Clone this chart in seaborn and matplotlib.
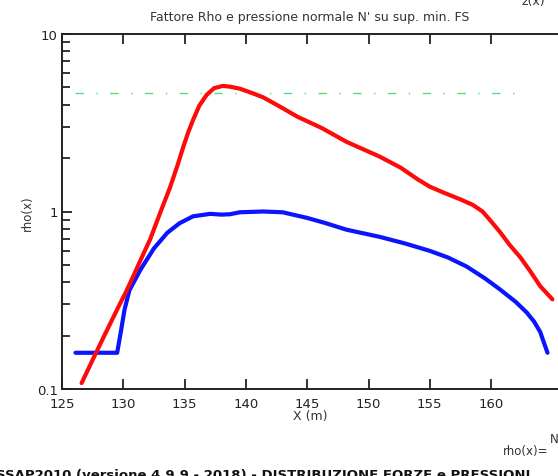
import numpy as np
import pandas as pd
import matplotlib
matplotlib.use("Agg")
import matplotlib.pyplot as plt
import matplotlib.ticker as mticker
import seaborn as sns

# rho(x) curve (red)
red_x = [126.6, 127.5, 128.5, 129.6, 130.2, 130.8, 131.5, 132.2, 133.0, 133.8,
         134.4, 134.9, 135.3, 135.7, 136.2, 136.8, 137.4, 138.1, 138.7, 139.5,
         140.5, 141.4, 142.8, 144.2, 146.2, 148.2, 150.9, 152.6, 154.0, 155.0,
         156.1, 157.5, 158.5, 159.3, 160.0, 160.7, 161.5, 162.4, 163.2, 164.0, 165.0]
red_y = [0.108, 0.146, 0.203, 0.29, 0.35, 0.43, 0.55, 0.70, 0.98, 1.36,
         1.8, 2.32, 2.8, 3.29, 3.95, 4.54, 4.95, 5.1, 5.05, 4.92,
         4.65, 4.40, 3.89, 3.42, 2.95, 2.47, 2.04, 1.77, 1.52, 1.38,
         1.28, 1.17, 1.09, 1.00, 0.88, 0.77, 0.65, 0.55, 0.46, 0.38, 0.32]

# N' curve (blue)
blue_x = [126.1, 129.5, 129.8, 130.1, 130.5, 131.4, 132.5, 133.6, 134.6, 135.7,
          137.1, 138.0, 138.7, 139.5, 141.4, 143.0, 145.0, 146.5, 148.2, 150.9,
          153.0, 155.0, 156.5, 158.0, 159.5, 160.7, 162.0, 162.9, 163.5, 164.0, 164.6]
blue_y = [0.16, 0.16, 0.21, 0.28, 0.36, 0.47, 0.62, 0.76, 0.86, 0.94,
          0.97, 0.96, 0.965, 0.99, 1.0, 0.99, 0.92, 0.86, 0.79, 0.72,
          0.66, 0.60, 0.55, 0.49, 0.42, 0.365, 0.31, 0.27, 0.24, 0.21, 0.16]

# FS level (green dash-dot)
fs_x = [126.1, 162.4]
fs_y = [4.66, 4.66]

yticks = [0.1, 1, 10]
ytick_labels = ["0.1", "1", "10"]
xticks = [125, 130, 135, 140, 145, 150, 155, 160]

sns.set_style("ticks")
plt.rcParams['font.family'] = ['DejaVu Sans']

W, H = 558, 477
fig = plt.figure(figsize=(W / 100, H / 100), dpi=100)
fig.patch.set_facecolor("white")
ax = fig.add_axes([62 / W, 1 - 390 / H, (557 - 62) / W, (390 - 35) / H])

df_red = pd.DataFrame({"x": red_x, "y": red_y})
df_blue = pd.DataFrame({"x": blue_x, "y": blue_y})
df_fs = pd.DataFrame({"x": fs_x, "y": fs_y})

sns.lineplot(data=df_fs, x="x", y="y", ax=ax, color="#55dd77", lw=1.0,
             linestyle=(0, (6, 9, 1, 9)), estimator=None)
sns.lineplot(data=df_blue, x="x", y="y", ax=ax, color="#0a14ff", lw=3.0,
             estimator=None, sort=False)
sns.lineplot(data=df_red, x="x", y="y", ax=ax, color="#ff0a0a", lw=3.0,
             estimator=None, sort=False)
for ln in ax.lines:
    ln.set_solid_joinstyle("round")
    ln.set_solid_capstyle("round")

ax.set_yscale("log")
ax.set_ylim(0.1, 10)
ax.set_xlim(125, 125 + (557 - 62) / 12.26)
ax.set_yticks(yticks)
ax.yaxis.set_major_formatter(mticker.FixedFormatter(ytick_labels))
ax.yaxis.set_minor_locator(mticker.LogLocator(base=10, subs=np.arange(2, 10)))
ax.yaxis.set_minor_formatter(mticker.NullFormatter())
ax.set_xticks(xticks)

ax.tick_params(axis="both", which="major", direction="in", length=7, width=1.3,
               labelsize=9.5, colors="#222222")
ax.tick_params(axis="y", which="minor", direction="in", length=6, width=1.3)
ax.tick_params(axis="x", top=True, pad=6)
ax.tick_params(axis="y", pad=3)

for s in ["left", "bottom", "top"]:
    ax.spines[s].set_linewidth(1.4)
    ax.spines[s].set_color("#222222")
ax.spines["right"].set_visible(False)

ax.set_xlabel("")
ax.set_ylabel("")
ax.grid(False)

def fx(px):
    return px / W

def fy(py):
    return 1 - py / H

fig.text(fx(310), fy(17), "Fattore Rho e pressione normale N' su sup. min. FS",
         ha="center", va="center", fontsize=9, color="#333333")
fig.text(fx(533), fy(1), "z(x)", ha="center", va="center", fontsize=9, color="#333333")
fig.text(fx(310), fy(417), "X (m)", ha="center", va="center", fontsize=9, color="#333333")
fig.text(fx(27), fy(213), "rho(x)", ha="center", va="center", rotation=90,
         fontsize=8.5, color="#333333")
fig.text(fx(548), fy(452), "rho(x)=", ha="right", va="center", fontsize=8.5,
         color="#333333")
fig.text(fx(550), fy(440), "N", ha="left", va="center", fontsize=8.5, color="#333333")
fig.text(fx(-4), fy(476), "SSAP2010 (versione 4.9.9 - 2018) - DISTRIBUZIONE FORZE e PRESSIONI",
         ha="left", va="center", fontsize=9.5, fontweight="bold", color="#111111")

fig.savefig("out.png", dpi=100, facecolor="white")
